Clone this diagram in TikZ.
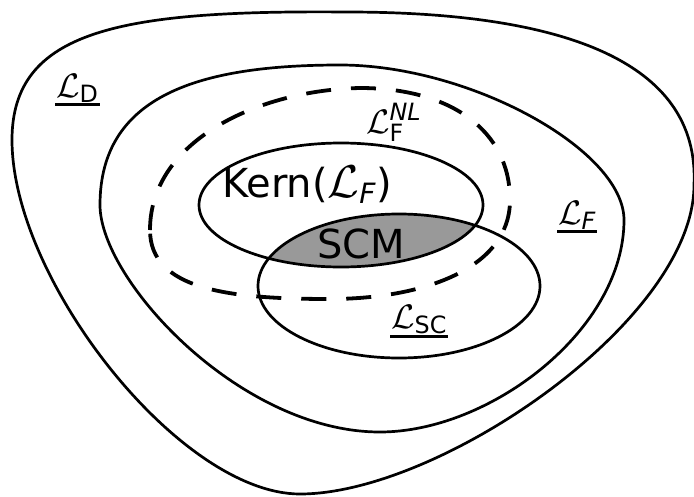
\RequirePackage{fix-cm}
\documentclass[tikz,border=0pt]{standalone}
\usepackage{amsmath}
\usepackage{fontspec}
\setmainfont{DejaVu Sans}
\definecolor{scmgray}{RGB}{153,153,153}
\begin{document}
\begin{tikzpicture}[x=1pt,y=-1pt,
  region/.style={line width=2.7pt, line join=round},
  dashregion/.style={line width=3.8pt, dash pattern=on 25pt off 20pt},
  lab/.style={font=\fontsize{34}{40}\selectfont, inner sep=1pt},
  big/.style={font=\fontsize{40}{48}\selectfont, inner sep=0pt},
  ulined/.style={line width=2.7pt}]
\useasboundingbox (0,0) rectangle (694,496);
% SCM intersection
\begin{scope}
  \clip (341,205) ellipse [x radius=142, y radius=62];
  \fill[scmgray] (399,286) ellipse [x radius=141, y radius=72];
\end{scope}
\draw[region] (341,205) ellipse [x radius=142, y radius=62];
\draw[region] (399,286) ellipse [x radius=141, y radius=72];
% outer region L_D
\draw[region] (12,140) .. controls (12,30) and (120,10) .. (347,12)
  .. controls (560,12) and (700,60) .. (694,185)
  .. controls (694,320) and (440,494) .. (300,494)
  .. controls (180,494) and (12,280) .. cycle;
% L_F region
\draw[region] (100,205) .. controls (100,95) and (200,65) .. (340,65)
  .. controls (470,65) and (624,150) .. (624,220)
  .. controls (624,330) and (490,432) .. (380,432)
  .. controls (240,432) and (100,280) .. cycle;
% L_F^NL dashed region
\draw[dashregion] (150,230) .. controls (150,140) and (260,90) .. (360,88)
  .. controls (450,88) and (510,130) .. (510,200)
  .. controls (510,270) and (420,299) .. (330,299)
  .. controls (230,299) and (150,290) .. cycle;
% labels
\node[lab, anchor=base west] (ld) at (55,97) {$\mathcal{L}_{\text{D}}$};
\draw[ulined] ([yshift=-1pt]ld.south west) -- ([yshift=-1pt]ld.south east);
\node[lab, anchor=base west] (lfnl) at (365,133) {$\mathcal{L}_{\text{F}}^{\textit{NL}}$};
\node[lab, anchor=base west] (lf) at (557,224) {$\mathcal{L}_{\textit{F}}$};
\draw[ulined] ([yshift=-1pt]lf.south west) -- ([yshift=-1pt]lf.south east);
\node[lab, anchor=base west] (lsc) at (390,328) {$\mathcal{L}_{\text{SC}}$};
\draw[ulined] ([yshift=-1pt]lsc.south west) -- ([yshift=-1pt]lsc.south east);
\node[big, anchor=base west] (kern) at (222,197) {Kern({\fontsize{46}{50}\selectfont$\mathcal{L}$}$_{\textit{F}}$)};
\node[big, anchor=base west] (scm) at (317,258) {SCM};
\end{tikzpicture}
\end{document}
